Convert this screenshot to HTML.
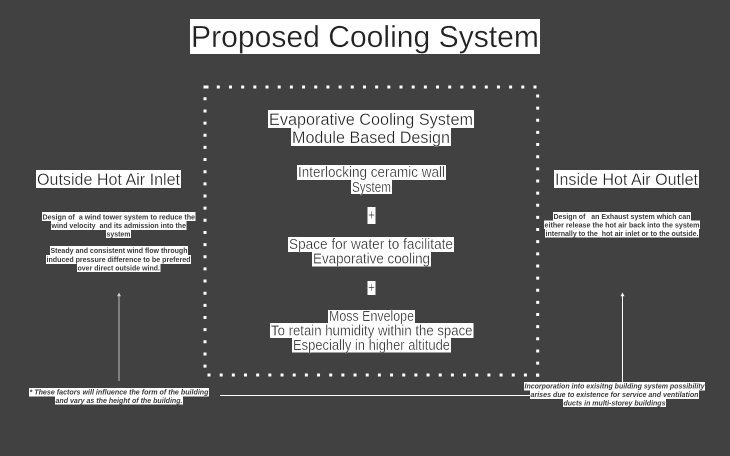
<!DOCTYPE html>
<html>
<head>
<meta charset="utf-8">
<style>
html,body{margin:0;padding:0;background:#414141;width:730px;height:456px;overflow:hidden}
svg{display:block;filter:blur(0.3px)}
text{font-family:"Liberation Sans",sans-serif;text-anchor:start;fill:#222;white-space:pre}
.t text{stroke:#fff;stroke-width:.3px}
.s{font-weight:700;font-size:7.4px;fill:#3a3a3a}
.i{font-weight:700;font-style:italic;font-size:7.4px;fill:#3a3a3a}
</style>
</head>
<body>
<svg width="730" height="456" viewBox="0 0 730 456" xmlns="http://www.w3.org/2000/svg">
<rect width="730" height="456" fill="#414141"/>
<g fill="#fff">
<rect x="190" y="19" width="350" height="35"/>
<rect x="36" y="170" width="145" height="18"/>
<rect x="554" y="170" width="145" height="18"/>
<rect x="268" y="110" width="206" height="18"/>
<rect x="291" y="128" width="160" height="18"/>
<rect x="297" y="165" width="149" height="15"/>
<rect x="351" y="180" width="41" height="14"/>
<rect x="367.500" y="207" width="8" height="17"/>
<rect x="288" y="237" width="166" height="15"/>
<rect x="312" y="252" width="119" height="14.500"/>
<rect x="367.500" y="281" width="8" height="14"/>
<rect x="328" y="310" width="87" height="13"/>
<rect x="270" y="323" width="203.500" height="15"/>
<rect x="292" y="338" width="159" height="14.500"/>
<rect x="42" y="212" width="153.500" height="9"/>
<rect x="51" y="221" width="135.500" height="9"/>
<rect x="106" y="230" width="25" height="8"/>
<rect x="50" y="246" width="138" height="9"/>
<rect x="46" y="255" width="145" height="9"/>
<rect x="77" y="264" width="83.500" height="8"/>
<rect x="553" y="212" width="138" height="8.500"/>
<rect x="544" y="220.500" width="156" height="8.500"/>
<rect x="545" y="229" width="154" height="8.500"/>
<rect x="29" y="388" width="180" height="8.500"/>
<rect x="55" y="396.500" width="128" height="8"/>
<rect x="524" y="382" width="181" height="8.500"/>
<rect x="530" y="390.500" width="169" height="8.500"/>
<rect x="563" y="399" width="103" height="8"/>
</g>
<g fill="none" stroke="#fff" stroke-width="3">
<path d="M216.800 87H537" stroke-dasharray="3 9.180"/>
<path d="M205 97.300V368" stroke-dasharray="3 9.150"/>
<path d="M207.500 375H539.500" stroke-dasharray="3 9.170"/>
<path d="M537.700 94.500V377" stroke-dasharray="3 9.140"/>
</g>
<rect x="203.500" y="85.500" width="5" height="3" fill="#fff"/>
<g stroke-width="1" fill="none">
<path d="M119 381V296" stroke="#bbb"/>
<path d="M622.500 382V296" stroke="#fff"/>
<path d="M220 395.500H530" stroke="#fff"/>
</g>
<path d="M119 292.500l2 3.800h-4z" fill="#ccc"/>
<path d="M622.500 292.500l2 3.800h-4z" fill="#fff"/>
<g class="t">
<text x="191" y="47" font-size="31" textLength="348" lengthAdjust="spacingAndGlyphs">Proposed Cooling System</text>
<text x="37" y="185" font-size="17" textLength="143" lengthAdjust="spacingAndGlyphs">Outside Hot Air Inlet</text>
<text x="555" y="185" font-size="17" textLength="143" lengthAdjust="spacingAndGlyphs">Inside Hot Air Outlet</text>
<text x="269" y="125" font-size="17" textLength="204" lengthAdjust="spacingAndGlyphs">Evaporative Cooling System</text>
<text x="292" y="143" font-size="17" textLength="158" lengthAdjust="spacingAndGlyphs">Module Based Design</text>
<text x="298" y="177" font-size="14.500" textLength="147" lengthAdjust="spacingAndGlyphs">Interlocking ceramic wall</text>
<text x="352" y="192" font-size="14.500" textLength="39" lengthAdjust="spacingAndGlyphs">System</text>
<text x="368" y="220" font-size="14.500" textLength="7" lengthAdjust="spacingAndGlyphs">+</text>
<text x="289" y="249" font-size="14.500" textLength="164" lengthAdjust="spacingAndGlyphs">Space for water to facilitate</text>
<text x="313" y="263.500" font-size="14.500" textLength="117" lengthAdjust="spacingAndGlyphs">Evaporative cooling</text>
<text x="368" y="292.500" font-size="14.500" textLength="7" lengthAdjust="spacingAndGlyphs">+</text>
<text x="329" y="321" font-size="14.500" textLength="85" lengthAdjust="spacingAndGlyphs">Moss Envelope</text>
<text x="271" y="335.500" font-size="14.500" textLength="201.500" lengthAdjust="spacingAndGlyphs">To retain humidity within the space</text>
<text x="293" y="350" font-size="14.500" textLength="157" lengthAdjust="spacingAndGlyphs">Especially in higher altitude</text>
</g>
<text class="s" x="42.500" y="219.500" textLength="152.500" lengthAdjust="spacingAndGlyphs">Design of  a wind tower system to reduce the</text>
<text class="s" x="51.500" y="228" textLength="134.500" lengthAdjust="spacingAndGlyphs">wind velocity  and its admission into the</text>
<text class="s" x="106.500" y="236.500" textLength="24" lengthAdjust="spacingAndGlyphs">system</text>
<text class="s" x="50.500" y="253" textLength="137" lengthAdjust="spacingAndGlyphs">Steady and consistent wind flow through</text>
<text class="s" x="46.500" y="262" textLength="144" lengthAdjust="spacingAndGlyphs">induced pressure difference to be prefered</text>
<text class="s" x="77.500" y="270.500" textLength="82.500" lengthAdjust="spacingAndGlyphs">over direct outside wind.</text>
<text class="s" x="553.500" y="219" textLength="137" lengthAdjust="spacingAndGlyphs">Design of   an Exhaust system which can</text>
<text class="s" x="544.500" y="227.500" textLength="155" lengthAdjust="spacingAndGlyphs">either release the hot air back into the system</text>
<text class="s" x="545.500" y="236" textLength="153" lengthAdjust="spacingAndGlyphs">internally to the  hot air inlet or to the outside.</text>
<text class="i" x="29.500" y="394.500" textLength="179" lengthAdjust="spacingAndGlyphs">* These factors will influence the form of the building</text>
<text class="i" x="55.500" y="403" textLength="127" lengthAdjust="spacingAndGlyphs">and vary as the height of the building.</text>
<text class="i" x="524.500" y="388.500" textLength="180" lengthAdjust="spacingAndGlyphs">Incorporation into exisitng building system possibility</text>
<text class="i" x="530.500" y="397" textLength="168" lengthAdjust="spacingAndGlyphs">arises due to existence for service and ventilation</text>
<text class="i" x="563.500" y="405.500" textLength="102" lengthAdjust="spacingAndGlyphs">ducts in multi-storey buildings</text>
</svg>
</body>
</html>
